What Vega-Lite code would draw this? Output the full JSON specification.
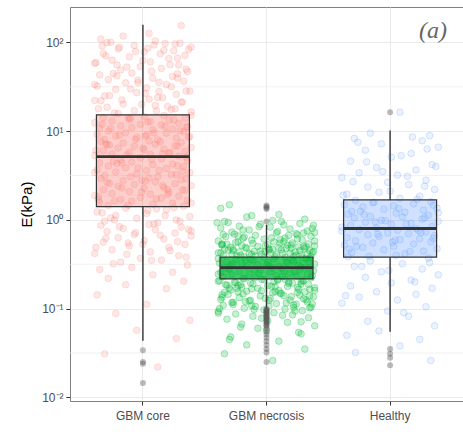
{
"$schema": "https://vega.github.io/schema/vega-lite/v6.json",
"width": 393, "height": 394,
"autosize": {"type": "none"},
"padding": {"left": 70, "top": 7, "right": 0, "bottom": 33},
"title": {"text": "(a)", "orient": "top", "anchor": "end", "frame": "group", "offset": -55, "dx": -16, "baseline": "alphabetic", "font": "Liberation Serif", "fontStyle": "italic", "fontWeight": "normal", "fontSize": 24, "color": "#666666"},
"resolve": {"scale": {"xOffset": "independent", "fillOpacity": "independent"}},
"config": {
  "view": {"stroke": "#808080", "strokeWidth": 1},
  "axis": {"domain": false, "grid": true, "gridColor": "#ebebeb", "gridWidth": 1, "tickColor": "#333333", "tickSize": 4, "labelColor": "#4d4d4d", "labelFont": "Liberation Sans", "labelFontSize": 12, "titleFont": "Liberation Sans"}
},
"datasets": {
"minor": [{"m": 0.0316}, {"m": 0.316}, {"m": 3.16}, {"m": 31.6}],
"summary": [
  {"g": "GBM core", "lo": 0.0436, "q1": 1.41, "med": 5.18, "q3": 15.3, "hi": 158},
  {"g": "GBM necrosis", "lo": 0.10, "q1": 0.216, "med": 0.29, "q3": 0.38, "hi": 0.88},
  {"g": "Healthy", "lo": 0.055, "q1": 0.38, "med": 0.80, "q3": 1.68, "hi": 10.2}
],
"outliers": [
  {"g": "GBM core", "v": 0.034}, {"g": "GBM core", "v": 0.025}, {"g": "GBM core", "v": 0.024}, {"g": "GBM core", "v": 0.0145},
  {"g": "GBM necrosis", "v": 1.45}, {"g": "GBM necrosis", "v": 1.41}, {"g": "GBM necrosis", "v": 1.37}, {"g": "GBM necrosis", "v": 1.33}, {"g": "GBM necrosis", "v": 0.96},
  {"g": "GBM necrosis", "v": 0.099}, {"g": "GBM necrosis", "v": 0.097}, {"g": "GBM necrosis", "v": 0.095}, {"g": "GBM necrosis", "v": 0.093}, {"g": "GBM necrosis", "v": 0.091}, {"g": "GBM necrosis", "v": 0.089}, {"g": "GBM necrosis", "v": 0.087}, {"g": "GBM necrosis", "v": 0.085}, {"g": "GBM necrosis", "v": 0.083}, {"g": "GBM necrosis", "v": 0.081}, {"g": "GBM necrosis", "v": 0.079}, {"g": "GBM necrosis", "v": 0.077}, {"g": "GBM necrosis", "v": 0.075}, {"g": "GBM necrosis", "v": 0.073}, {"g": "GBM necrosis", "v": 0.071}, {"g": "GBM necrosis", "v": 0.069}, {"g": "GBM necrosis", "v": 0.067}, {"g": "GBM necrosis", "v": 0.065}, {"g": "GBM necrosis", "v": 0.063}, {"g": "GBM necrosis", "v": 0.059}, {"g": "GBM necrosis", "v": 0.055}, {"g": "GBM necrosis", "v": 0.051}, {"g": "GBM necrosis", "v": 0.047}, {"g": "GBM necrosis", "v": 0.043}, {"g": "GBM necrosis", "v": 0.039}, {"g": "GBM necrosis", "v": 0.035}, {"g": "GBM necrosis", "v": 0.032}, {"g": "GBM necrosis", "v": 0.025},
  {"g": "Healthy", "v": 16.4}, {"g": "Healthy", "v": 0.035}, {"g": "Healthy", "v": 0.031}, {"g": "Healthy", "v": 0.028}, {"g": "Healthy", "v": 0.023}
],
"pts": [
{"g":"GBM core","v":0.022,"j":0.12},{"g":"GBM core","v":0.031,"j":-0.31},{"g":"GBM core","v":0.046,"j":0.27},{"g":"GBM core","v":0.057,"j":-0.05},{"g":"GBM core","v":0.074,"j":0.38},{"g":"GBM core","v":0.088,"j":-0.22},{"g":"GBM core","v":0.112,"j":0.03},{"g":"GBM core","v":0.143,"j":-0.37},
{"g":"GBM core","v":0.168,"j":0.19},{"g":"GBM core","v":0.186,"j":-0.14},{"g":"GBM core","v":0.203,"j":0.33},{"g":"GBM core","v":0.219,"j":-0.28},{"g":"GBM core","v":0.241,"j":0.08},{"g":"GBM core","v":0.257,"j":0.24},{"g":"GBM core","v":0.276,"j":-0.35},{"g":"GBM core","v":0.292,"j":-0.09},{"g":"GBM core","v":0.311,"j":0.36},{"g":"GBM core","v":0.334,"j":-0.18},{"g":"GBM core","v":0.352,"j":0.15},{"g":"GBM core","v":0.368,"j":-0.02},{"g":"GBM core","v":0.395,"j":0.29},{"g":"GBM core","v":0.418,"j":-0.39},{"g":"GBM core","v":0.437,"j":0.06},{"g":"GBM core","v":0.461,"j":-0.25},{"g":"GBM core","v":0.489,"j":0.21},
{"g":"GBM core","v":0.51,"j":-0.11},{"g":"GBM core","v":0.53,"j":0.34},{"g":"GBM core","v":0.56,"j":-0.32},{"g":"GBM core","v":0.585,"j":0.01},{"g":"GBM core","v":0.61,"j":0.17},{"g":"GBM core","v":0.63,"j":-0.2},{"g":"GBM core","v":0.66,"j":0.39},{"g":"GBM core","v":0.685,"j":-0.07},{"g":"GBM core","v":0.71,"j":0.26},{"g":"GBM core","v":0.74,"j":-0.29},{"g":"GBM core","v":0.775,"j":0.1},{"g":"GBM core","v":0.8,"j":-0.16},{"g":"GBM core","v":0.83,"j":0.31},{"g":"GBM core","v":0.865,"j":-0.34},{"g":"GBM core","v":0.89,"j":0.05},{"g":"GBM core","v":0.93,"j":0.12},{"g":"GBM core","v":0.965,"j":-0.31},{"g":"GBM core","v":1.0,"j":0.27},{"g":"GBM core","v":1.04,"j":-0.05},{"g":"GBM core","v":1.09,"j":0.38},{"g":"GBM core","v":1.12,"j":-0.22},{"g":"GBM core","v":1.18,"j":0.03},{"g":"GBM core","v":1.23,"j":-0.37},{"g":"GBM core","v":1.3,"j":0.19},{"g":"GBM core","v":1.36,"j":-0.14},
{"g":"GBM core","v":1.43,"j":0.33},{"g":"GBM core","v":1.46,"j":-0.28},{"g":"GBM core","v":1.5,"j":0.08},{"g":"GBM core","v":1.55,"j":0.24},{"g":"GBM core","v":1.57,"j":-0.35},{"g":"GBM core","v":1.63,"j":-0.09},{"g":"GBM core","v":1.66,"j":0.36},{"g":"GBM core","v":1.7,"j":-0.18},{"g":"GBM core","v":1.76,"j":0.15},{"g":"GBM core","v":1.79,"j":-0.02},{"g":"GBM core","v":1.85,"j":0.29},{"g":"GBM core","v":1.88,"j":-0.39},{"g":"GBM core","v":1.95,"j":0.06},{"g":"GBM core","v":1.98,"j":-0.25},{"g":"GBM core","v":2.05,"j":0.21},{"g":"GBM core","v":2.09,"j":-0.11},{"g":"GBM core","v":2.16,"j":0.34},{"g":"GBM core","v":2.19,"j":-0.32},{"g":"GBM core","v":2.27,"j":0.01},{"g":"GBM core","v":2.31,"j":0.17},{"g":"GBM core","v":2.39,"j":-0.2},{"g":"GBM core","v":2.43,"j":0.39},{"g":"GBM core","v":2.51,"j":-0.07},{"g":"GBM core","v":2.56,"j":0.26},{"g":"GBM core","v":2.64,"j":-0.29},{"g":"GBM core","v":2.69,"j":0.1},{"g":"GBM core","v":2.78,"j":-0.16},{"g":"GBM core","v":2.83,"j":0.31},{"g":"GBM core","v":2.93,"j":-0.34},{"g":"GBM core","v":2.98,"j":0.05},{"g":"GBM core","v":3.08,"j":0.12},{"g":"GBM core","v":3.14,"j":-0.31},{"g":"GBM core","v":3.24,"j":0.27},{"g":"GBM core","v":3.3,"j":-0.05},{"g":"GBM core","v":3.41,"j":0.38},{"g":"GBM core","v":3.47,"j":-0.22},{"g":"GBM core","v":3.59,"j":0.03},{"g":"GBM core","v":3.66,"j":-0.37},{"g":"GBM core","v":3.78,"j":0.19},{"g":"GBM core","v":3.86,"j":-0.14},{"g":"GBM core","v":3.98,"j":0.33},{"g":"GBM core","v":4.05,"j":-0.28},{"g":"GBM core","v":4.19,"j":0.08},{"g":"GBM core","v":4.27,"j":0.24},{"g":"GBM core","v":4.41,"j":-0.35},{"g":"GBM core","v":4.49,"j":-0.09},{"g":"GBM core","v":4.64,"j":0.36},{"g":"GBM core","v":4.72,"j":-0.18},{"g":"GBM core","v":4.88,"j":0.15},{"g":"GBM core","v":5.02,"j":-0.02},
{"g":"GBM core","v":5.25,"j":0.29},{"g":"GBM core","v":5.33,"j":-0.39},{"g":"GBM core","v":5.47,"j":0.06},{"g":"GBM core","v":5.55,"j":-0.25},{"g":"GBM core","v":5.7,"j":0.21},{"g":"GBM core","v":5.78,"j":-0.11},{"g":"GBM core","v":5.94,"j":0.34},{"g":"GBM core","v":6.02,"j":-0.32},{"g":"GBM core","v":6.19,"j":0.01},{"g":"GBM core","v":6.28,"j":0.17},{"g":"GBM core","v":6.46,"j":-0.2},{"g":"GBM core","v":6.55,"j":0.39},{"g":"GBM core","v":6.74,"j":-0.07},{"g":"GBM core","v":6.83,"j":0.26},{"g":"GBM core","v":7.03,"j":-0.29},{"g":"GBM core","v":7.13,"j":0.1},{"g":"GBM core","v":7.34,"j":-0.16},{"g":"GBM core","v":7.44,"j":0.31},{"g":"GBM core","v":7.66,"j":-0.34},{"g":"GBM core","v":7.77,"j":0.05},{"g":"GBM core","v":8.0,"j":0.12},{"g":"GBM core","v":8.11,"j":-0.31},{"g":"GBM core","v":8.35,"j":0.27},{"g":"GBM core","v":8.47,"j":-0.05},{"g":"GBM core","v":8.72,"j":0.38},{"g":"GBM core","v":8.84,"j":-0.22},{"g":"GBM core","v":9.1,"j":0.03},{"g":"GBM core","v":9.23,"j":-0.37},{"g":"GBM core","v":9.5,"j":0.19},{"g":"GBM core","v":9.63,"j":-0.14},{"g":"GBM core","v":9.92,"j":0.33},{"g":"GBM core","v":10.05,"j":-0.28},{"g":"GBM core","v":10.35,"j":0.08},{"g":"GBM core","v":10.5,"j":0.24},{"g":"GBM core","v":10.8,"j":-0.35},{"g":"GBM core","v":10.96,"j":-0.09},{"g":"GBM core","v":11.28,"j":0.36},{"g":"GBM core","v":11.44,"j":-0.18},{"g":"GBM core","v":11.78,"j":0.15},{"g":"GBM core","v":11.94,"j":-0.02},{"g":"GBM core","v":12.3,"j":0.29},{"g":"GBM core","v":12.47,"j":-0.39},{"g":"GBM core","v":12.84,"j":0.06},{"g":"GBM core","v":13.02,"j":-0.25},{"g":"GBM core","v":13.4,"j":0.21},{"g":"GBM core","v":13.6,"j":-0.11},{"g":"GBM core","v":14.0,"j":0.34},{"g":"GBM core","v":14.2,"j":-0.32},{"g":"GBM core","v":14.6,"j":0.01},{"g":"GBM core","v":15.0,"j":0.17},
{"g":"GBM core","v":15.8,"j":-0.2},{"g":"GBM core","v":16.5,"j":0.39},{"g":"GBM core","v":17.1,"j":-0.07},{"g":"GBM core","v":17.9,"j":0.26},{"g":"GBM core","v":18.6,"j":-0.29},{"g":"GBM core","v":19.5,"j":0.1},{"g":"GBM core","v":20.2,"j":-0.16},{"g":"GBM core","v":21.2,"j":0.31},{"g":"GBM core","v":22.0,"j":-0.34},{"g":"GBM core","v":23.0,"j":0.05},{"g":"GBM core","v":23.9,"j":0.12},{"g":"GBM core","v":25.0,"j":-0.31},{"g":"GBM core","v":26.0,"j":0.27},{"g":"GBM core","v":27.2,"j":-0.05},{"g":"GBM core","v":28.3,"j":0.38},{"g":"GBM core","v":29.6,"j":-0.22},{"g":"GBM core","v":30.8,"j":0.03},{"g":"GBM core","v":32.2,"j":-0.37},{"g":"GBM core","v":33.5,"j":0.19},{"g":"GBM core","v":35.0,"j":-0.14},{"g":"GBM core","v":36.4,"j":0.33},{"g":"GBM core","v":38.1,"j":-0.28},{"g":"GBM core","v":39.6,"j":0.08},{"g":"GBM core","v":41.4,"j":0.24},{"g":"GBM core","v":43.1,"j":-0.35},{"g":"GBM core","v":45.1,"j":-0.09},{"g":"GBM core","v":46.9,"j":0.36},{"g":"GBM core","v":49.0,"j":-0.18},{"g":"GBM core","v":51.0,"j":0.15},{"g":"GBM core","v":53.4,"j":-0.02},{"g":"GBM core","v":55.6,"j":0.29},{"g":"GBM core","v":58.1,"j":-0.39},{"g":"GBM core","v":60.5,"j":0.06},{"g":"GBM core","v":63.2,"j":-0.25},{"g":"GBM core","v":65.8,"j":0.21},{"g":"GBM core","v":68.8,"j":-0.11},{"g":"GBM core","v":71.6,"j":0.34},{"g":"GBM core","v":74.9,"j":-0.32},{"g":"GBM core","v":77.9,"j":0.01},{"g":"GBM core","v":81.5,"j":0.17},{"g":"GBM core","v":84.8,"j":-0.2},{"g":"GBM core","v":88.6,"j":0.39},{"g":"GBM core","v":92.3,"j":-0.07},{"g":"GBM core","v":96.4,"j":0.26},{"g":"GBM core","v":99.5,"j":-0.29},
{"g":"GBM core","v":104,"j":0.1},{"g":"GBM core","v":109,"j":-0.34},{"g":"GBM core","v":118,"j":-0.16},{"g":"GBM core","v":127,"j":0.05},{"g":"GBM core","v":155,"j":0.31},
{"g":"GBM core","v":0.32,"j":-0.24},{"g":"GBM core","v":0.35,"j":0.07},{"g":"GBM core","v":0.38,"j":0.35},{"g":"GBM core","v":0.41,"j":-0.13},{"g":"GBM core","v":0.45,"j":0.22},{"g":"GBM core","v":0.49,"j":-0.38},{"g":"GBM core","v":0.53,"j":0.0},{"g":"GBM core","v":0.57,"j":0.28},{"g":"GBM core","v":0.62,"j":-0.3},{"g":"GBM core","v":0.67,"j":0.14},{"g":"GBM core","v":0.72,"j":-0.06},{"g":"GBM core","v":0.78,"j":0.37},{"g":"GBM core","v":0.84,"j":-0.19},{"g":"GBM core","v":0.9,"j":0.09},{"g":"GBM core","v":0.97,"j":0.3},{"g":"GBM core","v":1.05,"j":-0.26},{"g":"GBM core","v":1.12,"j":0.18},{"g":"GBM core","v":1.2,"j":-0.33},{"g":"GBM core","v":1.28,"j":0.04},{"g":"GBM core","v":1.37,"j":0.25},
{"g":"GBM core","v":1.46,"j":-0.12},{"g":"GBM core","v":1.55,"j":0.39},{"g":"GBM core","v":1.64,"j":-0.23},{"g":"GBM core","v":1.73,"j":0.11},{"g":"GBM core","v":1.83,"j":-0.36},{"g":"GBM core","v":1.94,"j":0.2},{"g":"GBM core","v":2.06,"j":-0.01},{"g":"GBM core","v":2.18,"j":0.32},{"g":"GBM core","v":2.3,"j":-0.17},{"g":"GBM core","v":2.44,"j":0.16},{"g":"GBM core","v":2.58,"j":-0.27},{"g":"GBM core","v":2.73,"j":0.02},{"g":"GBM core","v":2.9,"j":0.35},{"g":"GBM core","v":3.06,"j":-0.1},{"g":"GBM core","v":3.24,"j":0.23},{"g":"GBM core","v":3.43,"j":-0.39},{"g":"GBM core","v":3.63,"j":0.13},{"g":"GBM core","v":3.85,"j":-0.04},{"g":"GBM core","v":4.07,"j":0.28},{"g":"GBM core","v":4.31,"j":-0.21},
{"g":"GBM core","v":4.56,"j":-0.24},{"g":"GBM core","v":4.83,"j":0.07},{"g":"GBM core","v":5.11,"j":0.35},{"g":"GBM core","v":5.41,"j":-0.13},{"g":"GBM core","v":5.73,"j":0.22},{"g":"GBM core","v":6.06,"j":-0.38},{"g":"GBM core","v":6.42,"j":0.0},{"g":"GBM core","v":6.79,"j":0.28},{"g":"GBM core","v":7.19,"j":-0.3},{"g":"GBM core","v":7.61,"j":0.14},{"g":"GBM core","v":8.06,"j":-0.06},{"g":"GBM core","v":8.53,"j":0.37},{"g":"GBM core","v":9.03,"j":-0.19},{"g":"GBM core","v":9.56,"j":0.09},{"g":"GBM core","v":10.1,"j":0.3},{"g":"GBM core","v":10.7,"j":-0.26},{"g":"GBM core","v":11.3,"j":0.18},{"g":"GBM core","v":12.0,"j":-0.33},{"g":"GBM core","v":12.7,"j":0.04},{"g":"GBM core","v":13.4,"j":0.25},
{"g":"GBM core","v":14.2,"j":-0.12},{"g":"GBM core","v":15.1,"j":0.39},{"g":"GBM core","v":16.0,"j":-0.23},{"g":"GBM core","v":16.9,"j":0.11},{"g":"GBM core","v":17.9,"j":-0.36},{"g":"GBM core","v":19.0,"j":0.2},{"g":"GBM core","v":20.1,"j":-0.01},{"g":"GBM core","v":21.3,"j":0.32},{"g":"GBM core","v":22.5,"j":-0.17},{"g":"GBM core","v":23.8,"j":0.16},{"g":"GBM core","v":25.2,"j":-0.27},{"g":"GBM core","v":26.7,"j":0.02},{"g":"GBM core","v":28.3,"j":0.35},{"g":"GBM core","v":29.9,"j":-0.1},{"g":"GBM core","v":31.7,"j":0.23},{"g":"GBM core","v":33.5,"j":-0.39},{"g":"GBM core","v":35.5,"j":0.13},{"g":"GBM core","v":37.6,"j":-0.04},{"g":"GBM core","v":39.8,"j":0.28},{"g":"GBM core","v":42.1,"j":-0.21},
{"g":"GBM core","v":44.6,"j":-0.24},{"g":"GBM core","v":47.2,"j":0.07},{"g":"GBM core","v":50.0,"j":0.35},{"g":"GBM core","v":52.9,"j":-0.13},{"g":"GBM core","v":56.0,"j":0.22},{"g":"GBM core","v":59.3,"j":-0.38},{"g":"GBM core","v":62.8,"j":0.0},{"g":"GBM core","v":66.5,"j":0.28},{"g":"GBM core","v":70.4,"j":-0.3},{"g":"GBM core","v":74.5,"j":0.14},{"g":"GBM core","v":78.9,"j":-0.06},{"g":"GBM core","v":83.5,"j":0.37},{"g":"GBM core","v":88.4,"j":-0.19},{"g":"GBM core","v":93.6,"j":0.09},{"g":"GBM core","v":98.0,"j":0.3},{"g":"GBM core","v":100.5,"j":-0.26},{"g":"GBM core","v":97.1,"j":0.18},{"g":"GBM core","v":91.0,"j":-0.33},{"g":"GBM core","v":86.1,"j":0.04},{"g":"GBM core","v":80.7,"j":0.25},
{"g":"GBM core","v":0.55,"j":-0.12},{"g":"GBM core","v":0.75,"j":0.39},{"g":"GBM core","v":1.0,"j":-0.23},{"g":"GBM core","v":1.33,"j":0.11},{"g":"GBM core","v":1.7,"j":-0.36},{"g":"GBM core","v":2.2,"j":0.2},{"g":"GBM core","v":2.8,"j":-0.01},{"g":"GBM core","v":3.5,"j":0.32},{"g":"GBM core","v":4.4,"j":-0.17},{"g":"GBM core","v":5.6,"j":0.16},{"g":"GBM core","v":7.0,"j":-0.27},{"g":"GBM core","v":8.8,"j":0.02},{"g":"GBM core","v":11.1,"j":0.35},{"g":"GBM core","v":14,"j":-0.1},{"g":"GBM core","v":17.6,"j":0.23},{"g":"GBM core","v":22.2,"j":-0.39},{"g":"GBM core","v":28,"j":0.13},{"g":"GBM core","v":35.2,"j":-0.04},{"g":"GBM core","v":44.3,"j":0.28},{"g":"GBM core","v":55.8,"j":-0.21},
{"g":"GBM necrosis","v":0.026,"j":0.05},{"g":"GBM necrosis","v":0.031,"j":-0.34},{"g":"GBM necrosis","v":0.035,"j":0.31},{"g":"GBM necrosis","v":0.039,"j":-0.16},{"g":"GBM necrosis","v":0.043,"j":0.1},{"g":"GBM necrosis","v":0.048,"j":-0.29},{"g":"GBM necrosis","v":0.054,"j":0.26},{"g":"GBM necrosis","v":0.06,"j":-0.07},
{"g":"GBM necrosis","v":0.064,"j":0.39},{"g":"GBM necrosis","v":0.067,"j":-0.2},{"g":"GBM necrosis","v":0.07,"j":0.17},{"g":"GBM necrosis","v":0.073,"j":0.01},{"g":"GBM necrosis","v":0.076,"j":-0.32},{"g":"GBM necrosis","v":0.079,"j":0.34},{"g":"GBM necrosis","v":0.082,"j":-0.11},{"g":"GBM necrosis","v":0.085,"j":0.21},{"g":"GBM necrosis","v":0.087,"j":-0.25},{"g":"GBM necrosis","v":0.09,"j":0.06},{"g":"GBM necrosis","v":0.093,"j":-0.39},{"g":"GBM necrosis","v":0.095,"j":0.29},{"g":"GBM necrosis","v":0.097,"j":-0.02},{"g":"GBM necrosis","v":0.099,"j":0.15},
{"g":"GBM necrosis","v":0.101,"j":-0.18},{"g":"GBM necrosis","v":0.104,"j":0.36},{"g":"GBM necrosis","v":0.106,"j":-0.09},{"g":"GBM necrosis","v":0.109,"j":-0.35},{"g":"GBM necrosis","v":0.112,"j":0.24},{"g":"GBM necrosis","v":0.114,"j":0.08},{"g":"GBM necrosis","v":0.117,"j":-0.28},{"g":"GBM necrosis","v":0.119,"j":0.33},{"g":"GBM necrosis","v":0.122,"j":-0.14},{"g":"GBM necrosis","v":0.125,"j":0.19},{"g":"GBM necrosis","v":0.127,"j":-0.37},{"g":"GBM necrosis","v":0.13,"j":0.03},{"g":"GBM necrosis","v":0.133,"j":-0.22},{"g":"GBM necrosis","v":0.136,"j":0.38},{"g":"GBM necrosis","v":0.139,"j":-0.05},{"g":"GBM necrosis","v":0.142,"j":0.27},{"g":"GBM necrosis","v":0.145,"j":-0.31},{"g":"GBM necrosis","v":0.148,"j":0.12},{"g":"GBM necrosis","v":0.151,"j":0.05},{"g":"GBM necrosis","v":0.153,"j":-0.34},{"g":"GBM necrosis","v":0.155,"j":0.31},{"g":"GBM necrosis","v":0.157,"j":-0.16},
{"g":"GBM necrosis","v":0.103,"j":0.22},{"g":"GBM necrosis","v":0.108,"j":-0.12},{"g":"GBM necrosis","v":0.113,"j":0.37},{"g":"GBM necrosis","v":0.118,"j":-0.27},{"g":"GBM necrosis","v":0.124,"j":0.02},{"g":"GBM necrosis","v":0.129,"j":0.3},{"g":"GBM necrosis","v":0.134,"j":-0.36},{"g":"GBM necrosis","v":0.14,"j":0.14},{"g":"GBM necrosis","v":0.146,"j":-0.19},{"g":"GBM necrosis","v":0.152,"j":0.25},{"g":"GBM necrosis","v":0.159,"j":-0.04},{"g":"GBM necrosis","v":0.165,"j":0.35},{"g":"GBM necrosis","v":0.171,"j":-0.3},{"g":"GBM necrosis","v":0.177,"j":0.07},{"g":"GBM necrosis","v":0.183,"j":-0.23},{"g":"GBM necrosis","v":0.189,"j":0.28},{"g":"GBM necrosis","v":0.195,"j":-0.13},{"g":"GBM necrosis","v":0.2,"j":0.18},{"g":"GBM necrosis","v":0.206,"j":-0.38},{"g":"GBM necrosis","v":0.212,"j":0.09},
{"g":"GBM necrosis","v":0.16,"j":0.1},{"g":"GBM necrosis","v":0.163,"j":-0.29},{"g":"GBM necrosis","v":0.166,"j":0.26},{"g":"GBM necrosis","v":0.169,"j":-0.07},{"g":"GBM necrosis","v":0.172,"j":0.39},{"g":"GBM necrosis","v":0.175,"j":-0.2},{"g":"GBM necrosis","v":0.178,"j":0.17},{"g":"GBM necrosis","v":0.181,"j":0.01},{"g":"GBM necrosis","v":0.184,"j":-0.32},{"g":"GBM necrosis","v":0.187,"j":0.34},{"g":"GBM necrosis","v":0.19,"j":-0.11},{"g":"GBM necrosis","v":0.194,"j":0.21},{"g":"GBM necrosis","v":0.197,"j":-0.25},{"g":"GBM necrosis","v":0.201,"j":0.06},{"g":"GBM necrosis","v":0.204,"j":-0.39},{"g":"GBM necrosis","v":0.207,"j":0.29},{"g":"GBM necrosis","v":0.211,"j":-0.02},{"g":"GBM necrosis","v":0.214,"j":0.15},
{"g":"GBM necrosis","v":0.218,"j":-0.18},{"g":"GBM necrosis","v":0.222,"j":0.36},{"g":"GBM necrosis","v":0.225,"j":-0.09},{"g":"GBM necrosis","v":0.229,"j":-0.35},{"g":"GBM necrosis","v":0.232,"j":0.24},{"g":"GBM necrosis","v":0.236,"j":0.08},{"g":"GBM necrosis","v":0.24,"j":-0.28},{"g":"GBM necrosis","v":0.243,"j":0.33},{"g":"GBM necrosis","v":0.247,"j":-0.14},{"g":"GBM necrosis","v":0.251,"j":0.19},{"g":"GBM necrosis","v":0.255,"j":-0.37},{"g":"GBM necrosis","v":0.259,"j":0.03},{"g":"GBM necrosis","v":0.263,"j":-0.22},{"g":"GBM necrosis","v":0.267,"j":0.38},{"g":"GBM necrosis","v":0.271,"j":-0.05},{"g":"GBM necrosis","v":0.275,"j":0.27},{"g":"GBM necrosis","v":0.279,"j":-0.31},{"g":"GBM necrosis","v":0.283,"j":0.12},{"g":"GBM necrosis","v":0.286,"j":0.05},{"g":"GBM necrosis","v":0.289,"j":-0.34},
{"g":"GBM necrosis","v":0.292,"j":0.31},{"g":"GBM necrosis","v":0.296,"j":-0.16},{"g":"GBM necrosis","v":0.3,"j":0.1},{"g":"GBM necrosis","v":0.305,"j":-0.29},{"g":"GBM necrosis","v":0.309,"j":0.26},{"g":"GBM necrosis","v":0.314,"j":-0.07},{"g":"GBM necrosis","v":0.318,"j":0.39},{"g":"GBM necrosis","v":0.323,"j":-0.2},{"g":"GBM necrosis","v":0.328,"j":0.17},{"g":"GBM necrosis","v":0.332,"j":0.01},{"g":"GBM necrosis","v":0.337,"j":-0.32},{"g":"GBM necrosis","v":0.342,"j":0.34},{"g":"GBM necrosis","v":0.347,"j":-0.11},{"g":"GBM necrosis","v":0.352,"j":0.21},{"g":"GBM necrosis","v":0.357,"j":-0.25},{"g":"GBM necrosis","v":0.362,"j":0.06},{"g":"GBM necrosis","v":0.366,"j":-0.39},{"g":"GBM necrosis","v":0.371,"j":0.29},{"g":"GBM necrosis","v":0.375,"j":-0.02},{"g":"GBM necrosis","v":0.379,"j":0.15},
{"g":"GBM necrosis","v":0.383,"j":-0.18},{"g":"GBM necrosis","v":0.387,"j":0.36},{"g":"GBM necrosis","v":0.391,"j":-0.09},{"g":"GBM necrosis","v":0.395,"j":-0.35},{"g":"GBM necrosis","v":0.4,"j":0.24},{"g":"GBM necrosis","v":0.404,"j":0.08},{"g":"GBM necrosis","v":0.408,"j":-0.28},{"g":"GBM necrosis","v":0.413,"j":0.33},{"g":"GBM necrosis","v":0.417,"j":-0.14},{"g":"GBM necrosis","v":0.422,"j":0.19},{"g":"GBM necrosis","v":0.426,"j":-0.37},{"g":"GBM necrosis","v":0.431,"j":0.03},{"g":"GBM necrosis","v":0.436,"j":-0.22},{"g":"GBM necrosis","v":0.44,"j":0.38},{"g":"GBM necrosis","v":0.445,"j":-0.05},{"g":"GBM necrosis","v":0.45,"j":0.27},{"g":"GBM necrosis","v":0.455,"j":-0.31},{"g":"GBM necrosis","v":0.46,"j":0.12},{"g":"GBM necrosis","v":0.465,"j":0.05},{"g":"GBM necrosis","v":0.47,"j":-0.34},{"g":"GBM necrosis","v":0.475,"j":0.31},{"g":"GBM necrosis","v":0.48,"j":-0.16},{"g":"GBM necrosis","v":0.486,"j":0.1},{"g":"GBM necrosis","v":0.491,"j":-0.29},{"g":"GBM necrosis","v":0.497,"j":0.26},{"g":"GBM necrosis","v":0.502,"j":-0.07},{"g":"GBM necrosis","v":0.508,"j":0.39},{"g":"GBM necrosis","v":0.514,"j":-0.2},{"g":"GBM necrosis","v":0.52,"j":0.17},{"g":"GBM necrosis","v":0.526,"j":0.01},{"g":"GBM necrosis","v":0.532,"j":-0.32},{"g":"GBM necrosis","v":0.538,"j":0.34},{"g":"GBM necrosis","v":0.544,"j":-0.11},{"g":"GBM necrosis","v":0.55,"j":0.21},{"g":"GBM necrosis","v":0.557,"j":-0.25},
{"g":"GBM necrosis","v":0.39,"j":0.22},{"g":"GBM necrosis","v":0.41,"j":-0.12},{"g":"GBM necrosis","v":0.43,"j":0.37},{"g":"GBM necrosis","v":0.45,"j":-0.27},{"g":"GBM necrosis","v":0.47,"j":0.02},{"g":"GBM necrosis","v":0.5,"j":0.3},{"g":"GBM necrosis","v":0.53,"j":-0.36},{"g":"GBM necrosis","v":0.57,"j":0.14},{"g":"GBM necrosis","v":0.62,"j":-0.19},{"g":"GBM necrosis","v":0.68,"j":0.25},
{"g":"GBM necrosis","v":0.565,"j":0.06},{"g":"GBM necrosis","v":0.58,"j":-0.39},{"g":"GBM necrosis","v":0.595,"j":0.29},{"g":"GBM necrosis","v":0.61,"j":-0.02},{"g":"GBM necrosis","v":0.625,"j":0.15},{"g":"GBM necrosis","v":0.64,"j":-0.18},{"g":"GBM necrosis","v":0.655,"j":0.36},{"g":"GBM necrosis","v":0.67,"j":-0.09},{"g":"GBM necrosis","v":0.685,"j":-0.35},{"g":"GBM necrosis","v":0.7,"j":0.24},{"g":"GBM necrosis","v":0.715,"j":0.08},{"g":"GBM necrosis","v":0.73,"j":-0.28},{"g":"GBM necrosis","v":0.75,"j":0.33},{"g":"GBM necrosis","v":0.77,"j":-0.14},{"g":"GBM necrosis","v":0.79,"j":0.19},{"g":"GBM necrosis","v":0.81,"j":-0.37},{"g":"GBM necrosis","v":0.83,"j":0.03},{"g":"GBM necrosis","v":0.85,"j":-0.22},{"g":"GBM necrosis","v":0.87,"j":0.38},{"g":"GBM necrosis","v":0.89,"j":-0.05},{"g":"GBM necrosis","v":0.91,"j":0.27},{"g":"GBM necrosis","v":0.935,"j":-0.31},{"g":"GBM necrosis","v":0.96,"j":0.12},{"g":"GBM necrosis","v":0.985,"j":0.05},
{"g":"GBM necrosis","v":0.93,"j":-0.4},{"g":"GBM necrosis","v":0.96,"j":-0.34},{"g":"GBM necrosis","v":1.02,"j":0.31},{"g":"GBM necrosis","v":1.08,"j":-0.16},{"g":"GBM necrosis","v":1.15,"j":0.1},{"g":"GBM necrosis","v":1.35,"j":-0.37},{"g":"GBM necrosis","v":1.48,"j":-0.3},
{"g":"GBM necrosis","v":0.062,"j":-0.21},{"g":"GBM necrosis","v":0.071,"j":0.28},{"g":"GBM necrosis","v":0.078,"j":-0.04},{"g":"GBM necrosis","v":0.084,"j":0.13},{"g":"GBM necrosis","v":0.089,"j":-0.39},{"g":"GBM necrosis","v":0.094,"j":0.23},{"g":"GBM necrosis","v":0.098,"j":-0.1},{"g":"GBM necrosis","v":0.102,"j":0.35},{"g":"GBM necrosis","v":0.107,"j":0.02},{"g":"GBM necrosis","v":0.111,"j":-0.27},{"g":"GBM necrosis","v":0.116,"j":0.16},{"g":"GBM necrosis","v":0.12,"j":-0.17},{"g":"GBM necrosis","v":0.126,"j":0.32},{"g":"GBM necrosis","v":0.131,"j":-0.01},{"g":"GBM necrosis","v":0.137,"j":0.2},{"g":"GBM necrosis","v":0.143,"j":-0.36},{"g":"GBM necrosis","v":0.149,"j":0.11},{"g":"GBM necrosis","v":0.154,"j":-0.23},{"g":"GBM necrosis","v":0.161,"j":0.39},{"g":"GBM necrosis","v":0.167,"j":-0.12},
{"g":"GBM necrosis","v":0.173,"j":0.25},{"g":"GBM necrosis","v":0.179,"j":0.04},{"g":"GBM necrosis","v":0.186,"j":-0.33},{"g":"GBM necrosis","v":0.192,"j":0.18},{"g":"GBM necrosis","v":0.198,"j":-0.26},{"g":"GBM necrosis","v":0.205,"j":0.3},{"g":"GBM necrosis","v":0.21,"j":0.09},{"g":"GBM necrosis","v":0.22,"j":-0.19},{"g":"GBM necrosis","v":0.235,"j":0.37},{"g":"GBM necrosis","v":0.25,"j":-0.06},{"g":"GBM necrosis","v":0.265,"j":0.14},{"g":"GBM necrosis","v":0.28,"j":-0.3},{"g":"GBM necrosis","v":0.295,"j":0.28},{"g":"GBM necrosis","v":0.31,"j":0.0},{"g":"GBM necrosis","v":0.325,"j":-0.38},{"g":"GBM necrosis","v":0.34,"j":0.22},{"g":"GBM necrosis","v":0.355,"j":-0.13},{"g":"GBM necrosis","v":0.37,"j":0.35},{"g":"GBM necrosis","v":0.384,"j":0.07},{"g":"GBM necrosis","v":0.392,"j":-0.24},
{"g":"GBM necrosis","v":0.398,"j":-0.21},{"g":"GBM necrosis","v":0.405,"j":0.28},{"g":"GBM necrosis","v":0.412,"j":-0.04},{"g":"GBM necrosis","v":0.419,"j":0.13},{"g":"GBM necrosis","v":0.427,"j":-0.39},{"g":"GBM necrosis","v":0.434,"j":0.23},{"g":"GBM necrosis","v":0.442,"j":-0.1},{"g":"GBM necrosis","v":0.451,"j":0.35},{"g":"GBM necrosis","v":0.459,"j":0.02},{"g":"GBM necrosis","v":0.468,"j":-0.27},{"g":"GBM necrosis","v":0.478,"j":0.16},{"g":"GBM necrosis","v":0.488,"j":-0.17},{"g":"GBM necrosis","v":0.499,"j":0.32},{"g":"GBM necrosis","v":0.51,"j":-0.01},{"g":"GBM necrosis","v":0.522,"j":0.2},{"g":"GBM necrosis","v":0.535,"j":-0.36},{"g":"GBM necrosis","v":0.548,"j":0.11},{"g":"GBM necrosis","v":0.562,"j":-0.23},{"g":"GBM necrosis","v":0.577,"j":0.39},{"g":"GBM necrosis","v":0.593,"j":-0.12},
{"g":"GBM necrosis","v":0.61,"j":0.25},{"g":"GBM necrosis","v":0.628,"j":0.04},{"g":"GBM necrosis","v":0.647,"j":-0.33},{"g":"GBM necrosis","v":0.667,"j":0.18},{"g":"GBM necrosis","v":0.69,"j":-0.26},{"g":"GBM necrosis","v":0.714,"j":0.3},{"g":"GBM necrosis","v":0.74,"j":0.09},{"g":"GBM necrosis","v":0.77,"j":-0.19},{"g":"GBM necrosis","v":0.8,"j":0.37},{"g":"GBM necrosis","v":0.84,"j":-0.06},{"g":"GBM necrosis","v":0.88,"j":0.14},{"g":"GBM necrosis","v":0.045,"j":-0.3},{"g":"GBM necrosis","v":0.052,"j":0.28},{"g":"GBM necrosis","v":0.057,"j":0.0},{"g":"GBM necrosis","v":0.1,"j":-0.38},{"g":"GBM necrosis","v":0.11,"j":0.22},{"g":"GBM necrosis","v":0.124,"j":-0.13},{"g":"GBM necrosis","v":0.139,"j":0.35},{"g":"GBM necrosis","v":0.155,"j":0.07},{"g":"GBM necrosis","v":0.17,"j":-0.24},
{"g":"GBM necrosis","v":0.185,"j":-0.21},{"g":"GBM necrosis","v":0.2,"j":0.28},{"g":"GBM necrosis","v":0.215,"j":-0.04},{"g":"GBM necrosis","v":0.23,"j":0.13},{"g":"GBM necrosis","v":0.245,"j":-0.39},{"g":"GBM necrosis","v":0.26,"j":0.23},{"g":"GBM necrosis","v":0.275,"j":-0.1},{"g":"GBM necrosis","v":0.29,"j":0.35},{"g":"GBM necrosis","v":0.305,"j":0.02},{"g":"GBM necrosis","v":0.32,"j":-0.27},{"g":"GBM necrosis","v":0.335,"j":0.16},{"g":"GBM necrosis","v":0.35,"j":-0.17},{"g":"GBM necrosis","v":0.365,"j":0.32},{"g":"GBM necrosis","v":0.44,"j":-0.01},{"g":"GBM necrosis","v":0.48,"j":0.2},{"g":"GBM necrosis","v":0.52,"j":-0.36},{"g":"GBM necrosis","v":0.6,"j":0.11},{"g":"GBM necrosis","v":0.66,"j":-0.23},{"g":"GBM necrosis","v":0.72,"j":0.39},{"g":"GBM necrosis","v":1.12,"j":-0.12},
{"g":"Healthy","v":0.026,"j":0.33},{"g":"Healthy","v":0.032,"j":-0.28},{"g":"Healthy","v":0.038,"j":0.08},{"g":"Healthy","v":0.045,"j":0.24},{"g":"Healthy","v":0.05,"j":-0.35},{"g":"Healthy","v":0.056,"j":-0.09},{"g":"Healthy","v":0.064,"j":0.36},{"g":"Healthy","v":0.072,"j":-0.18},{"g":"Healthy","v":0.082,"j":0.15},{"g":"Healthy","v":0.094,"j":-0.02},
{"g":"Healthy","v":0.105,"j":0.29},{"g":"Healthy","v":0.115,"j":-0.39},{"g":"Healthy","v":0.125,"j":0.06},{"g":"Healthy","v":0.135,"j":-0.25},{"g":"Healthy","v":0.145,"j":0.21},{"g":"Healthy","v":0.155,"j":-0.11},{"g":"Healthy","v":0.17,"j":0.34},{"g":"Healthy","v":0.18,"j":-0.32},{"g":"Healthy","v":0.195,"j":0.01},{"g":"Healthy","v":0.21,"j":0.17},{"g":"Healthy","v":0.225,"j":-0.2},{"g":"Healthy","v":0.24,"j":0.39},{"g":"Healthy","v":0.26,"j":-0.07},{"g":"Healthy","v":0.28,"j":0.26},{"g":"Healthy","v":0.3,"j":-0.29},{"g":"Healthy","v":0.32,"j":0.1},{"g":"Healthy","v":0.345,"j":-0.16},{"g":"Healthy","v":0.37,"j":0.31},
{"g":"Healthy","v":0.385,"j":-0.34},{"g":"Healthy","v":0.4,"j":0.05},{"g":"Healthy","v":0.415,"j":0.12},{"g":"Healthy","v":0.43,"j":-0.31},{"g":"Healthy","v":0.445,"j":0.27},{"g":"Healthy","v":0.46,"j":-0.05},{"g":"Healthy","v":0.475,"j":0.38},{"g":"Healthy","v":0.49,"j":-0.22},{"g":"Healthy","v":0.505,"j":0.03},{"g":"Healthy","v":0.52,"j":-0.37},{"g":"Healthy","v":0.535,"j":0.19},{"g":"Healthy","v":0.55,"j":-0.14},{"g":"Healthy","v":0.565,"j":0.33},{"g":"Healthy","v":0.58,"j":-0.28},{"g":"Healthy","v":0.6,"j":0.08},{"g":"Healthy","v":0.615,"j":0.24},{"g":"Healthy","v":0.63,"j":-0.35},{"g":"Healthy","v":0.65,"j":-0.09},{"g":"Healthy","v":0.665,"j":0.36},{"g":"Healthy","v":0.68,"j":-0.18},{"g":"Healthy","v":0.7,"j":0.15},{"g":"Healthy","v":0.715,"j":-0.02},{"g":"Healthy","v":0.73,"j":0.29},{"g":"Healthy","v":0.75,"j":-0.39},{"g":"Healthy","v":0.765,"j":0.06},{"g":"Healthy","v":0.78,"j":-0.25},{"g":"Healthy","v":0.795,"j":0.21},
{"g":"Healthy","v":0.81,"j":-0.11},{"g":"Healthy","v":0.84,"j":0.34},{"g":"Healthy","v":0.865,"j":-0.32},{"g":"Healthy","v":0.89,"j":0.01},{"g":"Healthy","v":0.915,"j":0.17},{"g":"Healthy","v":0.94,"j":-0.2},{"g":"Healthy","v":0.965,"j":0.39},{"g":"Healthy","v":0.99,"j":-0.07},{"g":"Healthy","v":1.02,"j":0.26},{"g":"Healthy","v":1.05,"j":-0.29},{"g":"Healthy","v":1.08,"j":0.1},{"g":"Healthy","v":1.1,"j":-0.16},{"g":"Healthy","v":1.13,"j":0.31},{"g":"Healthy","v":1.16,"j":-0.34},{"g":"Healthy","v":1.19,"j":0.05},{"g":"Healthy","v":1.22,"j":0.12},{"g":"Healthy","v":1.25,"j":-0.31},{"g":"Healthy","v":1.29,"j":0.27},{"g":"Healthy","v":1.32,"j":-0.05},{"g":"Healthy","v":1.36,"j":0.38},{"g":"Healthy","v":1.4,"j":-0.22},{"g":"Healthy","v":1.44,"j":0.03},{"g":"Healthy","v":1.48,"j":-0.37},{"g":"Healthy","v":1.52,"j":0.19},{"g":"Healthy","v":1.56,"j":-0.14},{"g":"Healthy","v":1.61,"j":0.33},{"g":"Healthy","v":1.66,"j":-0.28},
{"g":"Healthy","v":1.75,"j":0.08},{"g":"Healthy","v":1.85,"j":0.24},{"g":"Healthy","v":1.95,"j":-0.35},{"g":"Healthy","v":2.05,"j":-0.09},{"g":"Healthy","v":2.2,"j":0.36},{"g":"Healthy","v":2.35,"j":-0.18},{"g":"Healthy","v":2.5,"j":0.15},{"g":"Healthy","v":2.65,"j":-0.02},{"g":"Healthy","v":2.8,"j":0.29},{"g":"Healthy","v":3.0,"j":-0.39},{"g":"Healthy","v":3.2,"j":0.06},{"g":"Healthy","v":3.4,"j":-0.25},{"g":"Healthy","v":3.65,"j":0.21},{"g":"Healthy","v":3.9,"j":-0.11},{"g":"Healthy","v":4.2,"j":0.34},{"g":"Healthy","v":4.6,"j":-0.32},
{"g":"Healthy","v":5.1,"j":0.01},{"g":"Healthy","v":5.6,"j":0.17},{"g":"Healthy","v":6.1,"j":-0.2},{"g":"Healthy","v":6.6,"j":0.39},{"g":"Healthy","v":7.2,"j":-0.07},{"g":"Healthy","v":7.8,"j":0.26},{"g":"Healthy","v":8.3,"j":-0.29},{"g":"Healthy","v":8.9,"j":0.32},{"g":"Healthy","v":9.5,"j":-0.16},{"g":"Healthy","v":16.4,"j":0.08},
{"g":"Healthy","v":0.09,"j":0.11},{"g":"Healthy","v":0.14,"j":-0.36},{"g":"Healthy","v":0.2,"j":0.2},{"g":"Healthy","v":0.27,"j":-0.01},{"g":"Healthy","v":0.33,"j":0.32},{"g":"Healthy","v":0.39,"j":-0.17},{"g":"Healthy","v":0.44,"j":0.16},{"g":"Healthy","v":0.5,"j":-0.27},{"g":"Healthy","v":0.56,"j":0.02},{"g":"Healthy","v":0.62,"j":0.35},{"g":"Healthy","v":0.69,"j":-0.1},{"g":"Healthy","v":0.76,"j":0.23},{"g":"Healthy","v":0.83,"j":-0.39},{"g":"Healthy","v":0.9,"j":0.13},{"g":"Healthy","v":0.98,"j":-0.04},{"g":"Healthy","v":1.06,"j":0.28},{"g":"Healthy","v":1.15,"j":-0.21},{"g":"Healthy","v":1.25,"j":-0.24},{"g":"Healthy","v":1.35,"j":0.07},{"g":"Healthy","v":1.46,"j":0.35},
{"g":"Healthy","v":1.58,"j":-0.13},{"g":"Healthy","v":1.71,"j":0.22},{"g":"Healthy","v":1.9,"j":-0.38},{"g":"Healthy","v":2.1,"j":0.0},{"g":"Healthy","v":2.4,"j":0.28},{"g":"Healthy","v":2.7,"j":-0.3},{"g":"Healthy","v":3.1,"j":0.14},{"g":"Healthy","v":3.5,"j":-0.06},{"g":"Healthy","v":4.0,"j":0.37},{"g":"Healthy","v":4.5,"j":-0.19},{"g":"Healthy","v":5.3,"j":0.09},{"g":"Healthy","v":6.3,"j":0.3},{"g":"Healthy","v":7.5,"j":-0.26},{"g":"Healthy","v":8.6,"j":0.18},{"g":"Healthy","v":0.47,"j":-0.33},{"g":"Healthy","v":0.59,"j":0.04},{"g":"Healthy","v":0.72,"j":0.25},{"g":"Healthy","v":0.95,"j":-0.12},{"g":"Healthy","v":1.2,"j":0.39},{"g":"Healthy","v":0.3,"j":-0.23}
]
},
"encoding": {
  "x": {"field": "g", "type": "nominal", "sort": ["GBM core", "GBM necrosis", "Healthy"],
        "scale": {"type": "band", "domain": ["GBM core", "GBM necrosis", "Healthy"], "paddingInner": 0, "paddingOuter": 0.09},
        "axis": {"title": null, "labelPadding": 5, "labelAngle": 0}}
},
"layer": [
  {"data": {"name": "minor"}, "mark": {"type": "rule", "color": "#ebebeb", "strokeWidth": 0.7},
   "encoding": {"x": null, "y": {"field": "m", "type": "quantitative"}}},
  {"data": {"name": "pts"},
   "mark": {"type": "point", "filled": false, "shape": "circle", "size": 44, "strokeWidth": 1, "opacity": 1},
   "encoding": {
     "xOffset": {"field": "j", "type": "quantitative", "scale": {"domain": [-0.5, 0.5]}},
     "y": {"field": "v", "type": "quantitative",
           "scale": {"type": "log", "domain": [0.0091, 251], "nice": false, "zero": false},
           "axis": {"title": "E(kPa)", "titleFontSize": 15, "titleFontWeight": "normal", "titleColor": "#000000", "titlePadding": 7,
                    "values": [0.01, 0.1, 1, 10, 100], "labelPadding": 3,
                    "labelExpr": "datum.value > 50 ? '10²' : datum.value > 5 ? '10¹' : datum.value > 0.5 ? '10⁰' : datum.value > 0.05 ? '10⁻¹' : '10⁻²'"}},
     "fill": {"field": "g", "type": "nominal", "scale": {"domain": ["GBM core", "GBM necrosis", "Healthy"], "range": ["#F8766D", "#00BA38", "#619CFF"]}, "legend": null},
     "stroke": {"field": "g", "type": "nominal", "scale": {"domain": ["GBM core", "GBM necrosis", "Healthy"], "range": ["#F8766D", "#00BA38", "#619CFF"]}, "legend": null},
     "fillOpacity": {"field": "g", "type": "nominal", "scale": {"type": "ordinal", "domain": ["GBM core", "GBM necrosis", "Healthy"], "range": [0.17, 0.22, 0.12]}, "legend": null},
     "strokeOpacity": {"field": "g", "type": "nominal", "scale": {"type": "ordinal", "domain": ["GBM core", "GBM necrosis", "Healthy"], "range": [0.2, 0.3, 0.25]}, "legend": null}
   }},
  {"data": {"name": "summary"}, "mark": {"type": "rule", "color": "#333333", "strokeWidth": 1.4},
   "encoding": {"y": {"field": "lo", "type": "quantitative"}, "y2": {"field": "q1"}}},
  {"data": {"name": "summary"}, "mark": {"type": "rule", "color": "#333333", "strokeWidth": 1.4},
   "encoding": {"y": {"field": "q3", "type": "quantitative"}, "y2": {"field": "hi"}}},
  {"data": {"name": "summary"}, "mark": {"type": "bar", "width": 93, "stroke": "#333333", "strokeWidth": 1.2},
   "encoding": {"y": {"field": "q1", "type": "quantitative"}, "y2": {"field": "q3"},
     "fill": {"field": "g", "type": "nominal", "scale": {"domain": ["GBM core", "GBM necrosis", "Healthy"], "range": ["#F8766D", "#00BA38", "#619CFF"]}, "legend": null},
     "fillOpacity": {"field": "g", "type": "nominal", "scale": {"type": "ordinal", "domain": ["GBM core", "GBM necrosis", "Healthy"], "range": [0.35, 0.75, 0.3]}, "legend": null}}},
  {"data": {"name": "summary"}, "mark": {"type": "tick", "orient": "horizontal", "color": "#333333", "size": 93, "thickness": 2.8, "opacity": 1},
   "encoding": {"y": {"field": "med", "type": "quantitative"}}},
  {"data": {"name": "outliers"}, "mark": {"type": "circle", "color": "#555555", "opacity": 0.4, "size": 36},
   "encoding": {"y": {"field": "v", "type": "quantitative"}}}
]
}
